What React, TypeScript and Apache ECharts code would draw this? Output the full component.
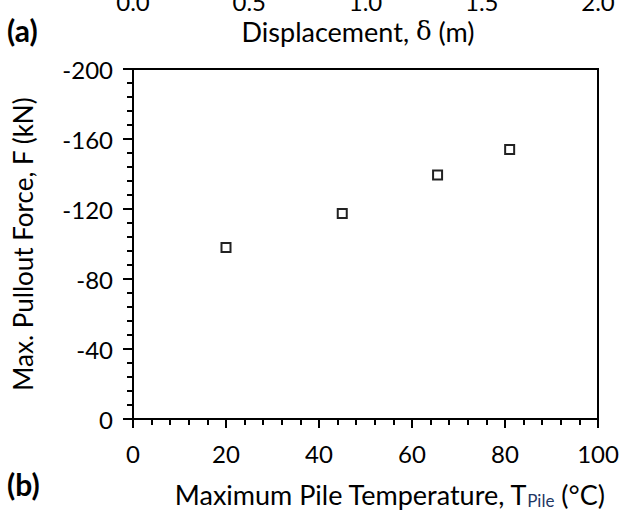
import React, { useEffect, useRef } from "react";
import * as echarts from "echarts";

// Panel (b) data: max pile temperature (°C) vs max pullout force (kN)
const temperatures = [20, 45, 65.5, 81];
const pulloutForces = [-98, -117.5, -139.5, -154];

// axis settings
const xTicksB = { min: 0, max: 100, interval: 20 };
const yTicksB = { min: -200, max: 0, interval: 40 };
// cropped panel (a) axis, only the lower part of its tick labels remains visible
const xTicksA = { min: 0, max: 2, interval: 0.5 };

const FONT = "Lato";

export default function App() {
  const ref = useRef<HTMLDivElement>(null);

  useEffect(() => {
    document.body.style.margin = "0";
    const chart = echarts.init(ref.current!, null, { renderer: "svg" });
    const scatterData = temperatures.map((t, i) => [t, pulloutForces[i]]);

    const axisLine = { show: true, lineStyle: { color: "#000", width: 2 } };

    chart.setOption({
      animation: false,
      backgroundColor: "#fff",
      textStyle: { fontFamily: FONT },
      grid: [
        {
          left: 133,
          top: 69,
          width: 465,
          height: 350,
          show: true,
          borderColor: "#000",
          borderWidth: 2,
          backgroundColor: "transparent",
          containLabel: false,
          outerBoundsMode: "none",
        },
      ],
      xAxis: [
        {
          type: "value",
          gridIndex: 0,
          ...xTicksB,
          axisLine,
          axisTick: { show: true, inside: false, length: 9, lineStyle: { color: "#000", width: 2 } },
          minorTick: { show: true, splitNumber: 5, length: 6, lineStyle: { color: "#000", width: 2 } },
          splitLine: { show: false },
          minorSplitLine: { show: false },
          axisLabel: { fontSize: 24, color: "#000", fontFamily: FONT, margin: 22 },
          name: "{n|Maximum Pile Temperature, T}{s|Pile}{n| (°C)}",
          nameLocation: "middle",
          nameGap: 61,
          nameTextStyle: {
            padding: [0, 0, 0, 48],
            rich: {
              n: { fontSize: 27, color: "#000", fontFamily: FONT },
              s: { fontSize: 17, color: "#1F3864", fontFamily: FONT, verticalAlign: "bottom", padding: [12, 0, 0, 0] },
            },
          },
        },
        {
          type: "value",
          gridIndex: 0,
          position: "top",
          offset: 48,
          ...xTicksA,
          axisLine: { show: false },
          axisTick: { show: false },
          splitLine: { show: false },
          axisLabel: {
            fontSize: 24,
            color: "#000",
            fontFamily: FONT,
            margin: 8,
            formatter: (v: number) => v.toFixed(1),
          },
        },
      ],
      yAxis: [
        {
          type: "value",
          gridIndex: 0,
          ...yTicksB,
          inverse: true,
          axisLine,
          axisTick: { show: true, inside: false, length: 10, lineStyle: { color: "#000", width: 2 } },
          minorTick: { show: true, splitNumber: 5, length: 6, lineStyle: { color: "#000", width: 2 } },
          splitLine: { show: false },
          minorSplitLine: { show: false },
          axisLabel: { fontSize: 24, color: "#000", fontFamily: FONT, margin: 20 },
          name: "Max. Pullout Force, F (kN)",
          nameLocation: "middle",
          nameGap: 97,
          nameTextStyle: { fontSize: 26, color: "#000", fontFamily: FONT },
        },
      ],
      graphic: [
        {
          type: "text",
          x: 358,
          y: 31,
          style: {
            text: "{n|Displacement, }{d|δ}{n| (m)}",
            align: "center",
            verticalAlign: "middle",
            rich: {
              n: { fontSize: 27, fill: "#000", fontFamily: FONT },
              d: { fontSize: 26, fill: "#000", fontFamily: "DejaVu Serif" },
            },
          },
        },
        {
          type: "text",
          left: 7,
          top: 15,
          style: { text: "(a)", fontSize: 30, fontWeight: "bold", fontFamily: FONT, fill: "#000" },
        },
        {
          type: "text",
          left: 7,
          top: 469,
          style: { text: "(b)", fontSize: 30, fontWeight: "bold", fontFamily: FONT, fill: "#000" },
        },
      ],
      series: [
        {
          type: "scatter",
          xAxisIndex: 0,
          yAxisIndex: 0,
          data: scatterData,
          symbol: "rect",
          symbolSize: 9,
          itemStyle: { color: "#fff", borderColor: "#222", borderWidth: 2, opacity: 1 },
        },
      ],
    });

    return () => chart.dispose();
  }, []);

  return <div ref={ref} style={{ width: 631, height: 511 }} />;
}
